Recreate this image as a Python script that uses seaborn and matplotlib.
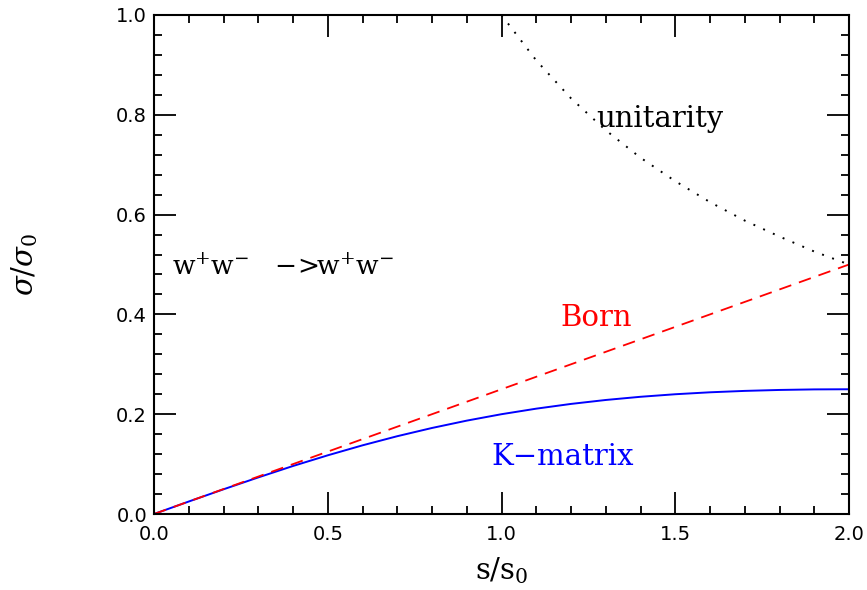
import numpy as np
import pandas as pd
import matplotlib
matplotlib.use("Agg")
import matplotlib.pyplot as plt
import seaborn as sns
from matplotlib.ticker import MultipleLocator

# values
s_born = [0.0, 0.5, 1.0, 1.5, 2.0]
sigma_born = [0.0, 0.125, 0.25, 0.375, 0.5]

s_kmat = [0.0, 0.1, 0.2, 0.3, 0.4, 0.5, 0.6, 0.7, 0.8, 0.9, 1.0,
          1.1, 1.2, 1.3, 1.4, 1.5, 1.6, 1.7, 1.8, 1.9, 2.0]
sigma_kmat = [0.0, 0.025, 0.0495, 0.0733, 0.0962, 0.1176, 0.1376, 0.1559, 0.1724, 0.1871, 0.200,
              0.2111, 0.2206, 0.2285, 0.2349, 0.240, 0.2439, 0.2467, 0.2486, 0.2497, 0.250]

s_unit = [1.0, 1.1, 1.2, 1.3, 1.4, 1.5, 1.6, 1.7, 1.8, 1.9, 2.0]
sigma_unit = [1.0, 0.909, 0.833, 0.769, 0.714, 0.667, 0.625, 0.588, 0.556, 0.526, 0.5]

sns.set_style("ticks")
plt.rcParams['font.family'] = ['DejaVu Sans']
plt.rcParams['mathtext.fontset'] = 'dejavuserif'
plt.rcParams['text.color'] = 'black'
plt.rcParams['axes.labelcolor'] = 'black'
plt.rcParams['xtick.color'] = 'black'
plt.rcParams['ytick.color'] = 'black'

fig = plt.figure(figsize=(8.67, 5.90), dpi=100)
ax = fig.add_axes([154 / 867, 1 - 514 / 590, 695 / 867, 499 / 590])

born_df = pd.DataFrame({"s": s_born, "sigma": sigma_born})
kmat_df = pd.DataFrame({"s": s_kmat, "sigma": sigma_kmat})
unit_df = pd.DataFrame({"s": s_unit, "sigma": sigma_unit})

sns.lineplot(data=kmat_df, x="s", y="sigma", ax=ax, color="blue", lw=1.4)
sns.lineplot(data=born_df, x="s", y="sigma", ax=ax, color="red", lw=1.3,
             linestyle=(0, (7, 4.5)))
sns.lineplot(data=unit_df, x="s", y="sigma", ax=ax, color="black", lw=1.4,
             linestyle=(0, (1, 4.5)))

ax.set_xlim(0, 2)
ax.set_ylim(0, 1)
ax.xaxis.set_major_locator(MultipleLocator(0.5))
ax.xaxis.set_minor_locator(MultipleLocator(0.1))
ax.yaxis.set_major_locator(MultipleLocator(0.2))
ax.yaxis.set_minor_locator(MultipleLocator(0.04))
ax.xaxis.set_major_formatter(plt.FuncFormatter(lambda v, p: f"{v:.1f}"))
ax.yaxis.set_major_formatter(plt.FuncFormatter(lambda v, p: f"{v:.1f}"))
ax.tick_params(which="both", direction="in", top=True, right=True, width=1.3,
               color="black", labelcolor="black")
ax.tick_params(which="major", length=16, labelsize=14)
ax.tick_params(axis="x", which="major", pad=8)
ax.tick_params(axis="y", which="major", pad=5)
ax.tick_params(which="minor", length=6)
for sp in ax.spines.values():
    sp.set_linewidth(1.5)
    sp.set_color("black")

serif = ['DejaVu Serif']
ax.set_xlabel(r"s/s$_0$", fontsize=21, family=serif, color="black")
ax.set_ylabel(r"$\sigma$/$\sigma_0$", fontsize=21, family=serif, color="black")
ax.xaxis.set_label_coords(0.5, -0.082)
ax.yaxis.set_label_coords(-0.164, 0.5)

ax.text(1.272, 0.776, "unitarity", fontsize=21, family=serif, color="black",
        va="baseline", ha="left")
ax.text(1.171, 0.377, "Born", fontsize=21, family=serif, color="red", va="baseline", ha="left")
ax.text(0.970, 0.098, "K\u2212matrix", fontsize=21, family=serif, color="blue",
        va="baseline", ha="left")
reaction = r"$\mathrm{w}^{+}\mathrm{w}^{-}\ \ \ {-}\!{>}\!\!\mathrm{w}^{+}\mathrm{w}^{-}$"
ax.text(0.052, 0.479, reaction, fontsize=19, color="black", va="baseline", ha="left")

fig.savefig("out.png", dpi=100)
